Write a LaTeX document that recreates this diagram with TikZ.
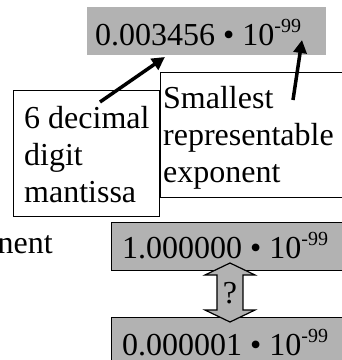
\documentclass[tikz,border=0pt]{standalone}
\usepackage{fontspec}
\setmainfont{Liberation Serif}
\usetikzlibrary{arrows.meta}
\definecolor{boxgray}{RGB}{178,178,178}
\newcommand{\expo}{\raisebox{13pt}{\fontsize{20}{20}\selectfont -99}}
\begin{document}
\begin{tikzpicture}[x=1pt,y=-1pt,
  txt/.style={font=\fontsize{32}{37}\selectfont, inner sep=0pt, anchor=base west, align=left},
  graybox/.style={fill=boxgray, inner sep=0pt, anchor=north west},
  border/.style={draw=black, line width=1.2pt},
  pointer/.style={line width=3.5pt, -{Triangle[length=13pt,width=13pt]}},
]
\useasboundingbox (0,0) rectangle (342,360);
\clip (0,0) rectangle (342,360);
% top number
\node[graybox, minimum width=239pt, minimum height=48pt] (topbox) at (87,7) {};
\node[txt] (toptext) at (95,45) {0.003456 • 10\expo};
% exponent callout
\node[border, fill=white, anchor=north west, inner sep=0pt, minimum width=200pt, minimum height=125pt] (expbox) at (160,72) {};
\node[txt] (exptext) at (163,182) {Smallest\\representable\\exponent};
% mantissa callout
\node[border, fill=white, anchor=north west, inner sep=0pt, minimum width=146pt, minimum height=126pt] (manbox) at (13,90) {};
\node[txt] (mantext) at (24,202) {6 decimal\\digit\\mantissa};
% clipped text on the left
\node[txt, anchor=base east] (nent) at (53,253) {nent};
% lower boxes
\node[graybox, border, minimum width=240pt, minimum height=48pt] (onebox) at (111,222) {};
\node[txt] (onetext) at (122,258) {1.000000 • 10\expo};
\node[graybox, border, minimum width=240pt, minimum height=60pt] (tinybox) at (111,317) {};
\node[txt] (tinytext) at (122,355) {0.000001 • 10\expo};
% double arrow between lower boxes
\coordinate (dtop) at (230,263);
\coordinate (dbot) at (230,322);
\draw[border, fill=boxgray, line join=miter]
  (dtop) -- (255,275) -- (243,275) -- (243,310) -- (255,310) -- (dbot)
  -- (205,310) -- (217,310) -- (217,275) -- (205,275) -- cycle;
\node[txt, anchor=base] (q) at (230,303) {?};
% pointers
\coordinate (p1s) at (100,102);
\coordinate (p1e) at (165,57);
\coordinate (p2s) at (293,100);
\coordinate (p2e) at (302,40);
\draw[pointer] (p1s) -- (p1e);
\draw[pointer] (p2s) -- (p2e);
\end{tikzpicture}
\end{document}
